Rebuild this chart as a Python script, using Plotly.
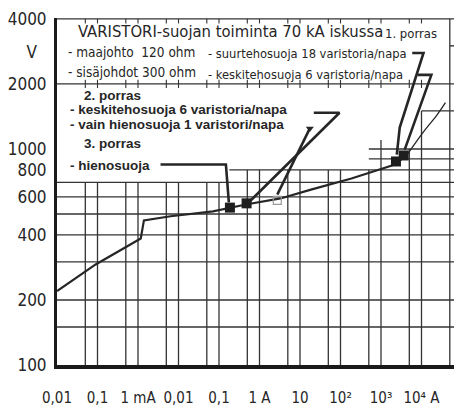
import math
import plotly.graph_objects as go

# ---------------- data ----------------
# main varistor V-I curve (current in A, voltage in V)
curve_current = [1e-5, 9e-5, 1.17e-3, 1.4e-3, 6.4e-3, 0.071, 0.46, 3.3, 19.6, 186, 1860, 4100]
curve_voltage = [220, 292, 385, 467, 488, 514, 553, 590, 650, 730, 838, 922]
# thin continuation above stage 1
tail_current = [4100, 1.12e4, 2.45e4, 3.9e4]
tail_voltage = [922, 1200, 1442, 1637]

# operating points (filled squares)
point_current = [0.186, 0.48, 2340, 3630]
point_voltage = [535, 560, 875, 933]
# hollow point (vain hienosuoja)
hollow_current = [2.75]
hollow_voltage = [578]

# leader lines from the texts to the points
lead3_current = [3.6e-3, 0.148, 0.175]
lead3_voltage = [847, 847, 566]
lead2a_current = [21.9, 94.6, 0.48]
lead2a_voltage = [1470, 1470, 553]
lead2b_current = [17.5, 2.75]
lead2b_voltage = [1245, 615]
lead1a_current = [5900, 11200, 2900, 2455]
lead1a_voltage = [2780, 2780, 1256, 942]
lead1b_current = [7980, 17540, 3850]
lead1b_voltage = [2203, 2203, 993]

# axis ticks
x_tickvals = [1e-5, 1e-4, 1e-3, 1e-2, 1e-1, 1, 10, 100, 1e3, 1e4]
x_ticktext = ["0,01", "0,1", "1 mA", "0,01", "0,1", "1 A", "10", "10²", "10³", "10⁴ A"]
x_last_label = "10⁵"
y_tickvals = [100, 200, 400, 600, 800, 1000, 2000, 2800, 4000]
y_ticktext = ["100", "200", "400", "600", "800", "1000", "2000", "V&nbsp;&nbsp;", "4000"]

# grid: vertical lines (value, top voltage)
grid_x = [5e-5, 1e-4, 5e-4, 1e-3, 5e-3, 1e-2, 5e-2, 0.1, 0.5, 1, 5, 10, 50, 100, 500, 1000, 5000, 1e4, 5e4]
grid_x_top = [700, 700, 700, 700, 700, 700, 700, 700, 800, 800, 800, 800, 800, 800, 800, 1100, 1000, 1500, 4000]
# horizontal lines (voltage, start current)
grid_y = [150, 200, 300, 400, 500, 600, 700, 800, 900, 1000, 1500, 2000, 3000, 4000]
grid_y_start = [1e-5, 1e-5, 1e-5, 1e-5, 1e-5, 1e-5, 1e-5, 0.18, 500, 500, 1e4, 1e-5, 5e4, 1e-5]

XMIN, XMAX = 1e-5, 1e5
INK = "#262626"
NARROW = "DejaVu Sans Condensed, DejaVu Sans"
WIDE = "Liberation Sans, Arial, Helvetica, sans-serif"


def cond(s):
    return '<span style="font-stretch:condensed">' + s + "</span>"


fig = go.Figure()

# grid lines
vx, vy = [], []
for gx, top in zip(grid_x, grid_x_top):
    vx += [gx, gx, None]
    vy += [100, top, None]
hx, hy = [], []
for gy, start in zip(grid_y, grid_y_start):
    hx += [start, XMAX, None]
    hy += [gy, gy, None]
# small ticks on the 4000 and 2000 lines
tx, ty = [], []
for gx in grid_x[:-1]:
    tx += [gx, gx, None]
    ty += [4000 / 1.05, 4000, None]
    tx += [gx, gx, None]
    ty += [2000 / 1.045, 2000 * 1.045, None]

for xs, ys, w in [(vx, vy, 1.3), (hx, hy, 1.4), (tx, ty, 1.1)]:
    fig.add_trace(go.Scatter(x=xs, y=ys, mode="lines", line=dict(color="#333333", width=w),
                             hoverinfo="skip", showlegend=False))

# curve
fig.add_trace(go.Scatter(x=curve_current, y=curve_voltage, mode="lines",
                         line=dict(color=INK, width=2.2), showlegend=False))
fig.add_trace(go.Scatter(x=tail_current, y=tail_voltage, mode="lines",
                         line=dict(color=INK, width=1.3, shape="spline"), showlegend=False))

# leader lines
for xs, ys in [(lead3_current, lead3_voltage), (lead2a_current, lead2a_voltage),
               (lead2b_current, lead2b_voltage), (lead1a_current, lead1a_voltage),
               (lead1b_current, lead1b_voltage)]:
    fig.add_trace(go.Scatter(x=xs, y=ys, mode="lines", line=dict(color=INK, width=2.6),
                             showlegend=False))
fig.add_trace(go.Scatter(x=lead2b_current[:1], y=lead2b_voltage[:1], mode="markers",
                         marker=dict(symbol="triangle-down", size=7, color=INK),
                         showlegend=False))

# points
fig.add_trace(go.Scatter(x=point_current, y=point_voltage, mode="markers",
                         marker=dict(symbol="square", size=10, color="#1e1e1e"),
                         showlegend=False))
fig.add_trace(go.Scatter(x=hollow_current, y=hollow_voltage, mode="markers",
                         marker=dict(symbol="square-open", size=8, color="#9a9a9a",
                                     line=dict(width=1.2)),
                         showlegend=False))


# texts (paper coordinates)
def txt(s, x, y, size, family, weight="normal"):
    fig.add_annotation(text=s, x=x, y=y, xref="paper", yref="paper",
                       xanchor="left", yanchor="middle", showarrow=False, borderpad=0,
                       font=dict(size=size, family=family, color=INK, weight=weight))


txt(cond("VARISTORI-suojan toiminta 70 kA iskussa"), 0.050, 0.960, 16.5, NARROW)
txt(cond("1. porras"), 0.808, 0.954, 13, NARROW)
txt(cond("- maajohto  120 ohm"), 0.024, 0.902, 13.5, NARROW)
txt(cond("- sisäjohdot 300 ohm"), 0.024, 0.844, 13.5, NARROW)
txt(cond("- suurtehosuoja 18 varistoria/napa"), 0.370, 0.899, 12.8, NARROW)
txt(cond("- keskitehosuoja 6 varistoria/napa"), 0.370, 0.836, 12.8, NARROW)
txt("2. porras", 0.063, 0.778, 13.5, WIDE, "bold")
txt("- keskitehosuoja 6 varistoria/napa", 0.030, 0.737, 13.5, WIDE, "bold")
txt("- vain hienosuoja 1 varistori/napa", 0.030, 0.692, 13.5, WIDE, "bold")
txt("3. porras", 0.063, 0.637, 13.5, WIDE, "bold")
txt("- hienosuoja", 0.030, 0.576, 13.5, WIDE, "bold")

# last x label sits on the right edge and is cut by the frame, as in the original
fig.add_annotation(text=cond(x_last_label), x=1.0, y=0, xref="paper", yref="paper",
                   xanchor="left", yanchor="top", xshift=-10, yshift=-24, showarrow=False,
                   font=dict(size=15, family=NARROW, color=INK))

fig.update_xaxes(type="log", range=[math.log10(XMIN), math.log10(XMAX)],
                 showgrid=False, zeroline=False, showline=True, linewidth=4, linecolor="#1a1a1a",
                 tickmode="array", tickvals=x_tickvals, ticktext=[cond(t) for t in x_ticktext],
                 ticks="", ticklabelstandoff=16,
                 tickfont=dict(size=15, family=NARROW, color=INK))
fig.update_yaxes(type="log", range=[2, math.log10(4000) + 0.004],
                 showgrid=False, zeroline=False, showline=True, linewidth=3, linecolor="#1a1a1a",
                 tickmode="array", tickvals=y_tickvals, ticktext=[cond(t) for t in y_ticktext],
                 ticks="", ticklabelstandoff=4,
                 tickfont=dict(size=17, family=NARROW, color=INK))
# the page body has an 8px margin: size the figure so it fills the 462x407 window
fig.update_layout(width=454, height=399, margin=dict(l=44, r=0, t=10, b=33),
                  paper_bgcolor="white", plot_bgcolor="white", showlegend=False)

fig.write_html("out.html")
